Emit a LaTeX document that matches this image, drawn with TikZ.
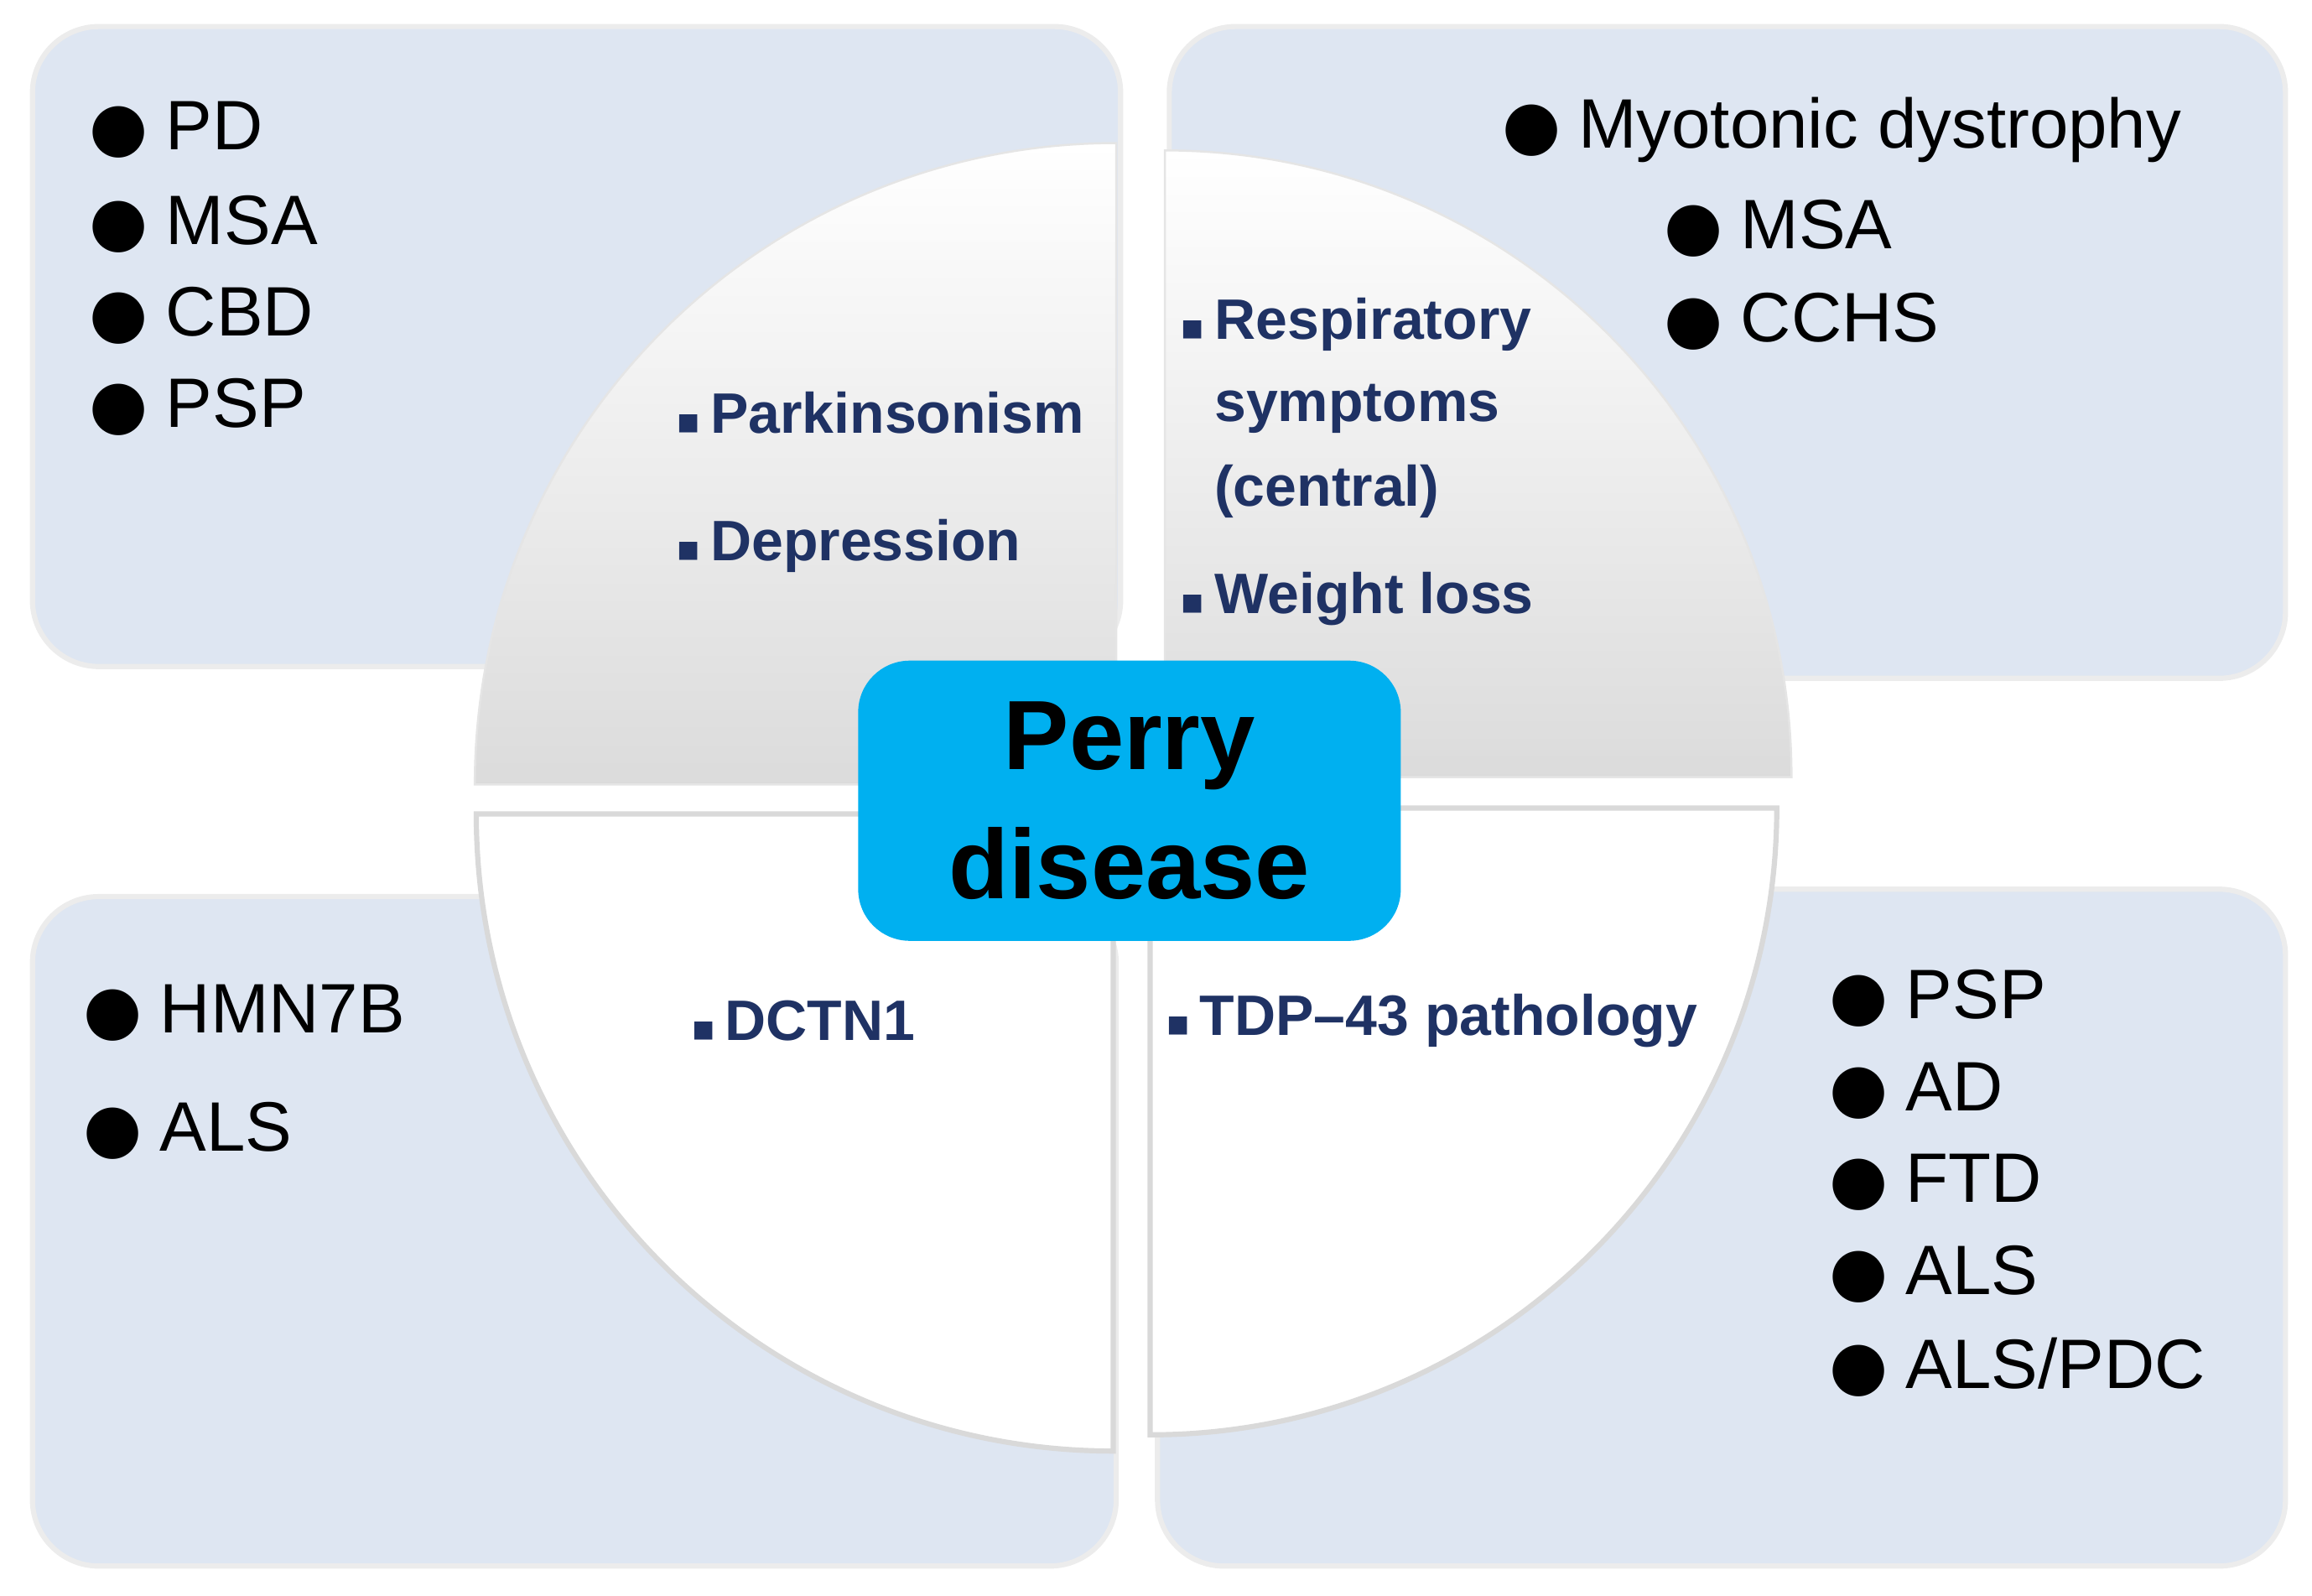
\documentclass[tikz,border=0pt]{standalone}
\usepackage{fontspec}
\setmainfont{Liberation Sans}
\newfontfamily\symfont{DejaVu Sans}
\definecolor{boxblue}{RGB}{222,230,242}
\definecolor{navy}{RGB}{31,50,100}
\definecolor{perryblue}{RGB}{0,176,240}
\newcommand{\bul}{{\symfont\fontsize{13}{13}\selectfont ●}\hspace{0.12cm}}
\newcommand{\sq}{{\symfont\fontsize{7}{7}\selectfont ▪}}
\tikzset{
  panel/.style={fill=boxblue, draw=gray!15, line width=1pt, rounded corners=0.45cm},
  item/.style={anchor=west, inner sep=0pt, font=\fontsize{13.5}{13.5}\selectfont},
  qtext/.style={anchor=west, inner sep=0pt, text=navy, font=\bfseries\fontsize{11}{11}\selectfont},
}
\begin{document}
\begin{tikzpicture}
\useasboundingbox (0,0) rectangle (15.68,10.82);

\draw [panel] (0.22,6.30) rectangle (7.60,10.64);
\draw [panel] (7.93,6.22) rectangle (15.50,10.64);
\draw [panel] (0.22,0.20) rectangle (7.57,4.74);
\draw [panel] (7.85,0.20) rectangle (15.50,4.79);

% quarters of the circle
\shade [top color=white, bottom color=gray!28, draw=gray!20] (7.57,5.50) -- (3.22,5.50) arc (180:90:4.35) -- cycle;
\shade [top color=white, bottom color=gray!28, draw=gray!20] (7.90,5.55) -- (7.90,9.80) arc (90:0:4.25) -- cycle;
\draw [fill=white, draw=gray!30, line width=1pt] (7.55,5.30) -- (7.55,0.98) arc (270:180:4.32) -- cycle;
\draw [fill=white, draw=gray!30, line width=1pt] (7.80,5.34) -- (12.05,5.34) arc (0:-90:4.25) -- cycle;

\node [fill=perryblue, rounded corners=0.35cm, minimum width=3.68cm, minimum height=1.90cm,
  align=center, font=\bfseries\fontsize{19}{25}\selectfont] (perry) at (7.66,5.39) {Perry\\disease};

% disease lists
\node [item] (pd) at (0.60,9.94) {\bul PD};
\node [item] (msa1) at (0.60,9.30) {\bul MSA};
\node [item] (cbd) at (0.60,8.68) {\bul CBD};
\node [item] (psp1) at (0.60,8.06) {\bul PSP};

\node [item] (myo) at (10.18,9.94) {\bul Myotonic dystrophy};
\node [item] (msa2) at (11.28,9.27) {\bul MSA};
\node [item] (cchs) at (11.28,8.64) {\bul CCHS};

\node [item] (hmn) at (0.56,3.95) {\bul HMN7B};
\node [item] (als1) at (0.56,3.15) {\bul ALS};

\node [item] (psp2) at (12.40,4.05) {\bul PSP};
\node [item] (ad) at (12.40,3.42) {\bul AD};
\node [item] (ftd) at (12.40,2.80) {\bul FTD};
\node [item] (als2) at (12.40,2.18) {\bul ALS};
\node [item] (pdc) at (12.40,1.55) {\bul ALS/PDC};

% quarter texts
\node [qtext] (park) at (4.58,8.02) {\sq\,Parkinsonism};
\node [qtext] (dep) at (4.58,7.12) {\sq\,Depression};
\node [qtext] (resp) at (8.00,8.62) {\sq\,Respiratory};
\node [qtext] (sym) at (8.23,8.05) {symptoms};
\node [qtext] (cen) at (8.23,7.49) {(central)};
\node [qtext] (wl) at (8.00,6.76) {\sq\,Weight loss};
\node [qtext] (dctn) at (4.68,3.90) {\sq\,DCTN1};
\node [qtext] (tdp) at (7.90,3.90) {\sq\,TDP–43 pathology};
\end{tikzpicture}
\end{document}
